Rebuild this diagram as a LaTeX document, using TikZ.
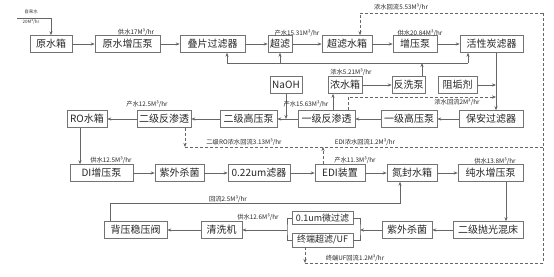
\documentclass[tikz,border=0pt]{standalone}
\usepackage{fontspec}
\setmainfont{Noto Sans CJK SC}
\usetikzlibrary{arrows.meta}
\begin{document}
\begin{tikzpicture}[x=1pt,y=-1pt,
  box/.style={draw=black!55, line width=0.6pt, fill=white, inner sep=1pt, minimum height=17pt, font=\fontsize{10}{10}\selectfont, text=black!85},
  sbox/.style={box, font=\fontsize{9}{9}\selectfont},
  lbl/.style={font=\fontsize{6.3}{6.3}\selectfont, text=black!85, inner sep=0pt},
  tiny/.style={font=\fontsize{4.5}{4.5}\selectfont, text=black!80, inner sep=0pt},
  ln/.style={draw=black!60, line width=0.6pt},
  arr/.style={ln, -{Stealth[length=4pt,width=3.2pt]}},
  dsh/.style={ln, dash pattern=on 3pt off 2pt},
  darr/.style={dsh, -{Stealth[length=4pt,width=3.2pt]}}]
\useasboundingbox (0,0) rectangle (554,276);
% row 1
\node[box, minimum width=42pt] (yuan) at (51,44) {原水箱};
\node[box, minimum width=65pt] (yuanpump) at (127.5,44) {原水增压泵};
\node[box, minimum width=65pt] (diepian) at (212.5,44) {叠片过滤器};
\node[box, minimum width=24pt] (chaolv) at (280,44) {超滤};
\node[box, minimum width=50pt] (cltank) at (347,44) {超滤水箱};
\node[box, minimum width=44pt] (boost) at (415,44) {增压泵};
\node[box, minimum width=63pt] (carbon) at (491.5,44) {活性炭滤器};
% row 2
\node[box, minimum width=32pt] (naoh) at (286,85) {NaOH};
\node[box, minimum width=34pt] (nstank) at (345,85) {浓水箱};
\node[box, minimum width=33pt] (bwpump) at (408.5,85) {反洗泵};
\node[box, minimum width=39pt] (zugou) at (457.5,85) {阻垢剂};
% row 3
\node[box, minimum width=64pt] (baoan) at (491,119) {保安过滤器};
\node[box, minimum width=56pt] (hp1) at (409,119) {一级高压泵};
\node[box, minimum width=57pt] (ro1) at (326.5,119) {一级反渗透};
\node[box, minimum width=57pt] (hp2) at (248.5,119) {二级高压泵};
\node[box, minimum width=54pt] (ro2) at (164,119) {二级反渗透};
\node[box, minimum width=40pt] (rotank) at (87,119) {RO水箱};
% row 4
\node[box, minimum width=63pt] (di) at (101.5,173) {DI增压泵};
\node[box, minimum width=49pt] (uv1) at (179.5,173) {紫外杀菌};
\node[box, minimum width=62pt] (f022) at (259,173) {0.22um滤器};
\node[box, minimum width=50pt] (edi) at (340,173) {EDI装置};
\node[box, minimum width=50pt] (n2tank) at (412,173) {氮封水箱};
\node[box, minimum width=65pt] (purepump) at (490.5,173) {纯水增压泵};
% row 5
\node[box, minimum width=63pt] (bpv) at (135.5,230) {背压稳压阀};
\node[box, minimum width=41pt] (washer) at (221.5,230) {清洗机};
\node[sbox, minimum width=61pt, minimum height=13pt] (mf) at (322.5,218) {0.1um微过滤};
\node[sbox, minimum width=61pt, minimum height=14pt] (uf) at (322.5,240) {终端超滤/UF};
\node[box, minimum width=50pt] (uv2) at (407,230) {紫外杀菌};
\node[box, minimum width=70pt] (polish) at (488,230) {二级抛光混床};
% helper coordinates
\coordinate (tap) at (17,18);
\coordinate (x496) at (496,0);
\coordinate (x333) at (333,0);
\coordinate (x80) at (80,0);
\coordinate (x506) at (506,0);
\coordinate (bw) at (422,63);
\coordinate (bwL) at (227,63);
\coordinate (bwR) at (468,63);
\coordinate (d97) at (348,97);
\coordinate (tr) at (543,13);
\coordinate (tl) at (360,13);
\coordinate (br) at (543,263);
\coordinate (m1) at (185,147);
\coordinate (m2) at (543,147);
\coordinate (e1) at (323,147);
\coordinate (b1) at (305,263);
\coordinate (bl) at (287,230);
\coordinate (brk) at (360,230);
\coordinate (r1) at (110,203);
\coordinate (r2) at (400,203);
% solid flows
\draw[arr] (tap) -| (yuan.north);
\draw[arr] (yuan) -- (yuanpump);
\draw[arr] (yuanpump) -- (diepian);
\draw[arr] (diepian) -- (chaolv);
\draw[arr] (chaolv) -- (cltank);
\draw[arr] (cltank) -- (boost);
\draw[arr] (boost) -- (carbon);
\draw[arr] (carbon.south -| x496) -- (baoan.north -| x496);
\draw[arr] (zugou.east) -- (zugou.east -| x496);
\draw[arr] (nstank) -- (bwpump);
\draw[arr] (bwpump.north -| bw) -- (bw);
\draw[ln] (bwL) -- (bwR);
\draw[arr] (bwL) -- (diepian.south -| bwL);
\draw[arr] (bwL -| chaolv.south) -- (chaolv.south);
\draw[arr] (bwR) -- (carbon.south -| bwR);
\draw[arr] (ro1.north -| x333) -- (nstank.south -| x333);
\draw[arr] (naoh.south) -- (naoh.south |- ro1.west);
\draw[arr] (baoan) -- (hp1);
\draw[arr] (hp1) -- (ro1);
\draw[arr] (ro1) -- (hp2);
\draw[arr] (hp2) -- (ro2);
\draw[arr] (ro2) -- (rotank);
\draw[arr] (rotank.south -| x80) -- (di.north -| x80);
\draw[arr] (di) -- (uv1);
\draw[arr] (uv1) -- (f022);
\draw[arr] (f022) -- (edi);
\draw[arr] (edi) -- (n2tank);
\draw[arr] (n2tank) -- (purepump);
\draw[arr] (purepump.south -| x506) -- (polish.north -| x506);
\draw[arr] (polish) -- (uv2);
\draw[arr] (uv2.west) -- (brk);
\draw[ln] (mf.east) -| (brk) |- (uf.east);
\draw[ln] (mf.west) -| (bl) |- (uf.west);
\draw[arr] (bl) -- (washer.east);
\draw[arr] (washer) -- (bpv);
\draw[arr] (bpv.north -| r1) -- (r1) -- (r2) -- (n2tank.south -| r2);
% dashed returns
\draw[darr] (tr) -- (tl) -- (cltank.north -| tl);
\draw[dsh] (tr) -- (br);
\draw[darr] (ro1.north -| d97) -- (d97) -- (d97 -| x496);
\draw[darr] (ro2.south -| m1) -- (m1);
\draw[dsh] (m1) -- (m2);
\draw[darr] (edi.north -| e1) -- (e1);
\draw[darr] (uf.south -| b1) -- (b1);
\draw[dsh] (b1) -- (br);
% labels
\node[tiny] (lt1) at (31,12) {自来水};
\node[tiny] (lt2) at (31,22) {20M³/hr};
\node[lbl] (l1) at (136,32) {供水17M³/hr};
\node[lbl] (l2) at (297,33) {产水15.31M³/hr};
\node[lbl] (l3) at (401,7) {浓水回流5.53M³/hr};
\node[lbl] (l4) at (420,33) {供水20.84M³/hr};
\node[lbl] (l5) at (351,72) {浓水5.21M³/hr};
\node[lbl] (l6) at (457,102) {浓水回流2M³/hr};
\node[lbl] (l7) at (306,104) {产水15.63M³/hr};
\node[lbl] (l8) at (147,104) {产水12.5M³/hr};
\node[lbl] (l9) at (244,142) {二级RO浓水回流3.13M³/hr};
\node[lbl] (l10) at (365,142) {EDI浓水回流1.2M³/hr};
\node[lbl] (l11) at (111,160) {供水12.5M³/hr};
\node[lbl] (l12) at (355,160) {产水11.3M³/hr};
\node[lbl] (l13) at (495,161) {供水13.8M³/hr};
\node[lbl] (l14) at (228,199) {回流2.5M³/hr};
\node[lbl] (l15) at (258,217) {供水12.6M³/hr};
\node[lbl] (l16) at (355,258) {终端UF回流1.2M³/hr};
\end{tikzpicture}
\end{document}
